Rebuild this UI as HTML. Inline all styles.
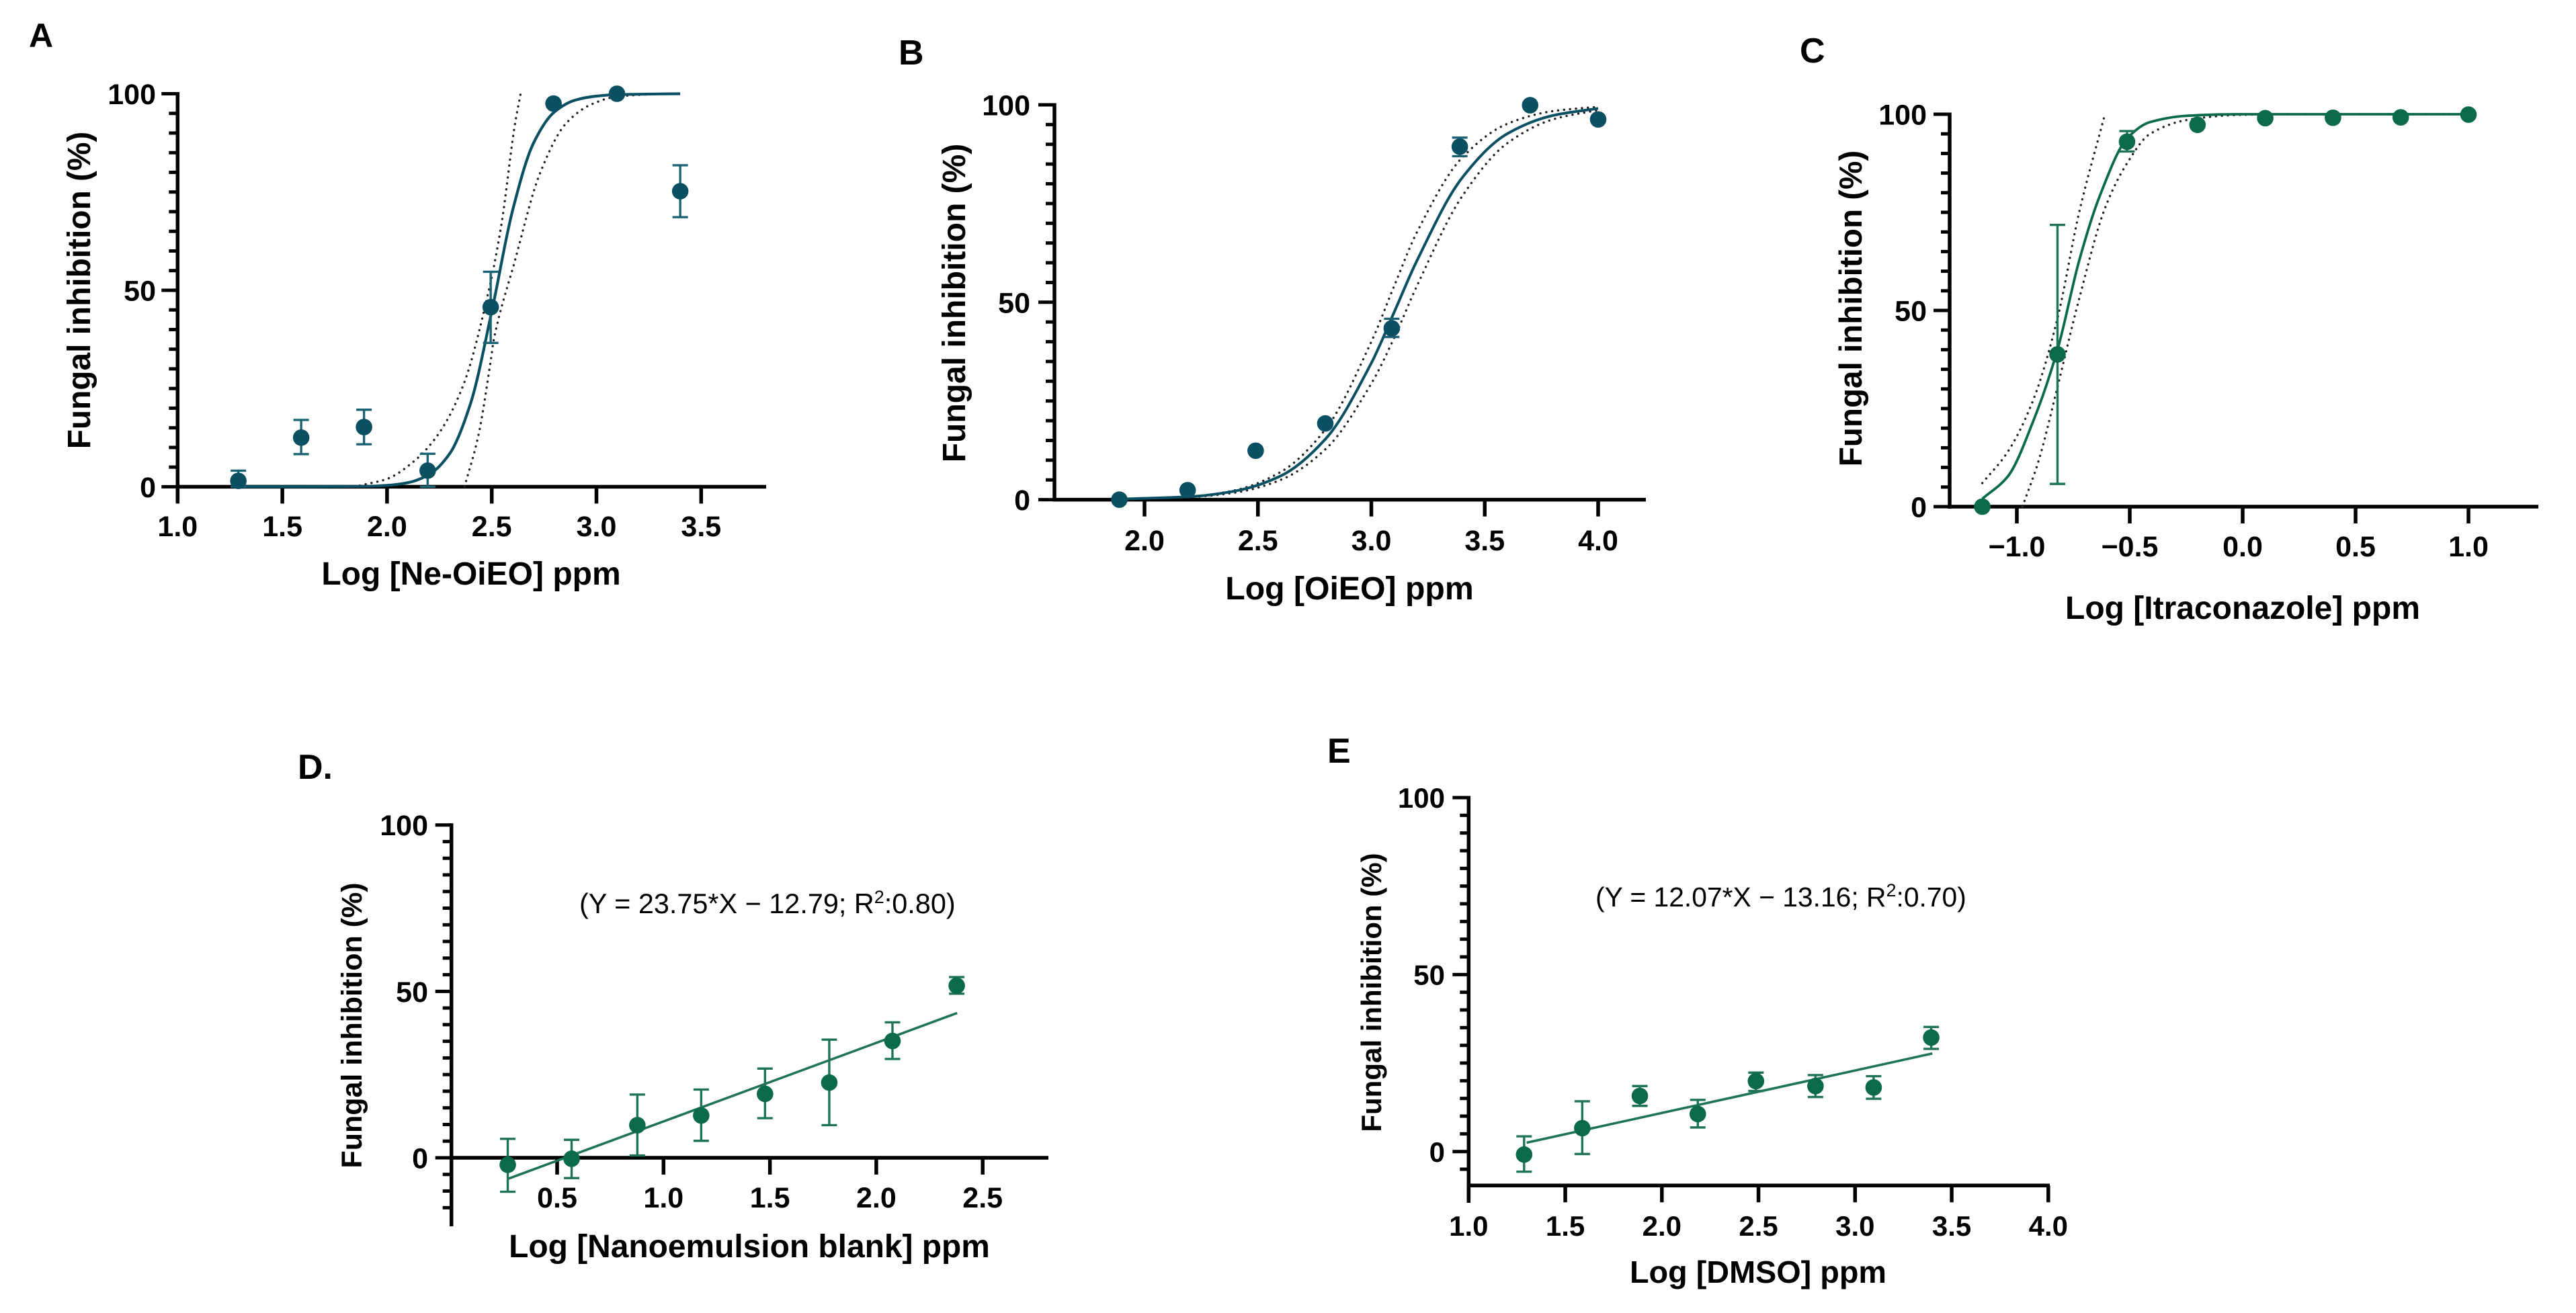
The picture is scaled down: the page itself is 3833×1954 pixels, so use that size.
<!DOCTYPE html>
<html lang="en">
<head>
<meta charset="utf-8">
<title>Fungal inhibition dose-response panels</title>
<style>
html,body{margin:0;padding:0;background:#fff;}
svg{display:block;}
text{font-family:"Liberation Sans",Arial,sans-serif;fill:#000;}
.bold{font-weight:700;}
</style>
</head>
<body>
<svg id="figure" xmlns="http://www.w3.org/2000/svg" width="3833" height="1954" viewBox="0 0 3833 1954">
<rect width="3833" height="1954" fill="#fff"/>

<g id="panel-a">
  <text class="bold" x="43" y="70" font-size="50">A</text>
  <text class="bold" font-size="47.8" text-anchor="middle" transform="translate(134,432) rotate(-90)">Fungal inhibition (%)</text>
  <text class="bold" font-size="48" text-anchor="middle" x="701" y="870">Log [Ne-OiEO] ppm</text>
</g>
<g id="panel-b">
  <text class="bold" x="1337" y="96" font-size="52">B</text>
  <text class="bold" font-size="48" text-anchor="middle" transform="translate(1436,451) rotate(-90)">Fungal inhibition (%)</text>
  <text class="bold" font-size="48.2" text-anchor="middle" x="2008" y="892">Log [OiEO] ppm</text>
</g>
<g id="panel-c">
  <text class="bold" x="2678" y="93" font-size="52">C</text>
  <text class="bold" font-size="47.6" text-anchor="middle" transform="translate(2770,459) rotate(-90)">Fungal inhibition (%)</text>
  <text class="bold" font-size="48" text-anchor="middle" x="3337" y="921">Log [Itraconazole] ppm</text>
</g>
<g id="panel-d">
  <text class="bold" x="443" y="1159" font-size="52">D.</text>
  <text class="bold" font-size="43" text-anchor="middle" transform="translate(538,1526) rotate(-90)">Fungal inhibition (%)</text>
  <text class="bold" font-size="47.9" text-anchor="middle" x="1115" y="1871">Log [Nanoemulsion blank] ppm</text>
  <text font-size="41.4" x="862" y="1359">(Y = 23.75*X − 12.79; R<tspan dy="-15" font-size="27">2</tspan><tspan dy="15">:0.80)</tspan></text>
</g>
<g id="panel-e">
  <text class="bold" x="1975" y="1135" font-size="52">E</text>
  <text class="bold" font-size="42" text-anchor="middle" transform="translate(2055,1477) rotate(-90)">Fungal inhibition (%)</text>
  <text class="bold" font-size="46.8" text-anchor="middle" x="2616" y="1909">Log [DMSO] ppm</text>
  <text font-size="40.8" x="2374" y="1349">(Y = 12.07*X − 13.16; R<tspan dy="-15" font-size="27">2</tspan><tspan dy="15">:0.70)</tspan></text>
</g>
</svg>

<script>
/* ---------- Panel A ---------- */
const aDose = [1.29, 1.59, 1.89, 2.194, 2.495, 2.795, 3.098, 3.4];
const aInhibition = [1.5, 12.5, 15.2, 4.1, 45.7, 97.5, 100, 75.2];
const aErrHigh = [4.1, 17, 19.6, 8.4, 54.7, 97.5, 100, 81.8];
const aErrLow = [0, 8.3, 10.8, 0, 36.6, 97.5, 100, 68.6];
const aFitX = [1.3, 1.6, 1.9, 2.0, 2.1, 2.2, 2.3, 2.4, 2.5, 2.6, 2.7, 2.8, 2.9, 3.0, 3.1, 3.4];
const aFitY = [0, 0, 0.12, 0.36, 1.05, 3.1, 8.5, 21.4, 44.6, 70.4, 87.5, 95.4, 98.4, 99.4, 99.8, 100];
const aUpperX = [1.87, 2.0, 2.12, 2.24, 2.363, 2.486, 2.547, 2.61, 2.638];
const aUpperY = [0.3, 2, 6.1, 13, 25.7, 50, 67, 92, 100];
const aLowerX = [2.37, 2.436, 2.495, 2.51, 2.608, 2.73, 2.854, 2.976, 3.1, 3.3];
const aLowerY = [0, 13, 32, 37.5, 57, 79.7, 92.4, 97.3, 99.3, 100];
const aXTicks = [1.0, 1.5, 2.0, 2.5, 3.0, 3.5];
const aXLabels = ['1.0', '1.5', '2.0', '2.5', '3.0', '3.5'];

/* ---------- Panel B ---------- */
const bDose = [1.889, 2.19, 2.49, 2.797, 3.09, 3.39, 3.7, 4.0];
const bInhibition = [0, 2.4, 12.4, 19.3, 43.4, 89.4, 99.9, 96.3];
const bErrHigh = [0, 2.4, 12.4, 19.3, 45.8, 91.7, 99.9, 96.3];
const bErrLow = [0, 2.4, 12.4, 19.3, 41.2, 87, 99.9, 96.3];
const bFitX = [1.9, 2.2, 2.4, 2.6, 2.8, 3.0, 3.1, 3.2, 3.4, 3.6, 3.8, 4.0];
const bFitY = [0.16, 0.76, 2.2, 6, 15.5, 34.6, 47.4, 60.4, 81.5, 92.7, 97.3, 99.1];
const bUpperX = [1.9, 2.2, 2.4, 2.6, 2.8, 3.0, 3.1, 3.2, 3.4, 3.6, 3.8, 4.0];
const bUpperY = [0.13, 0.73, 2.4, 7, 18, 40, 54, 67.6, 86.6, 95.2, 98.4, 99.5];
const bLowerX = [1.9, 2.2, 2.4, 2.6, 2.8, 3.0, 3.1, 3.2, 3.4, 3.6, 3.8, 4.0];
const bLowerY = [0.14, 0.66, 1.8, 5, 12.9, 29.4, 40.9, 54, 76.8, 90.3, 96.3, 98.7];
const bXTicks = [2.0, 2.5, 3.0, 3.5, 4.0];
const bXLabels = ['2.0', '2.5', '3.0', '3.5', '4.0'];

/* ---------- Panel C ---------- */
const cDose = [-1.153, -0.82, -0.512, -0.2, 0.1, 0.4, 0.7, 1.0];
const cInhibition = [0, 38.8, 93, 97.3, 99, 99.1, 99.2, 99.9];
const cErrHigh = [0, 71.8, 95.7, 97.3, 99, 99.1, 99.2, 99.9];
const cErrLow = [0, 5.8, 90.5, 97.3, 99, 99.1, 99.2, 99.9];
const cFitX = [-1.153, -1.04, -0.926, -0.82, -0.724, -0.634, -0.512, -0.41, -0.25, -0.03, 0.4, 1.0];
const cFitY = [2, 7.7, 22, 40, 62.7, 79, 93.8, 98, 99.6, 100, 100, 100];
const cUpperX = [-1.153, -1.04, -0.926, -0.82, -0.724, -0.61];
const cUpperY = [6, 14, 27.4, 48, 75, 100];
const cLowerX = [-0.975, -0.903, -0.82, -0.724, -0.61, -0.512, -0.41, -0.25, -0.03, 0.2, 1.0];
const cLowerY = [0, 11.8, 30.5, 53, 76, 87.5, 95, 98.5, 99.8, 100, 100];
const cXTicks = [-1.0, -0.5, 0.0, 0.5, 1.0];
const cXLabels = ['−1.0', '−0.5', '0.0', '0.5', '1.0'];

/* ---------- Panel D ---------- */
const dDose = [0.268, 0.568, 0.877, 1.177, 1.477, 1.779, 2.076, 2.378];
const dInhibition = [-2.1, -0.3, 9.8, 12.7, 19.2, 22.6, 35.1, 51.7];
const dErrHigh = [5.7, 5.4, 19, 20.5, 26.8, 35.5, 40.7, 54.3];
const dErrLow = [-10.2, -6.1, 0.7, 5.1, 11.9, 9.8, 29.7, 49.3];
const dLineX = [0.27, 2.38];
const dLineY = [-6.3, 43.5];
const dXTicks = [0.5, 1.0, 1.5, 2.0, 2.5];
const dXLabels = ['0.5', '1.0', '1.5', '2.0', '2.5'];

/* ---------- Panel E ---------- */
const eDose = [1.287, 1.588, 1.886, 2.186, 2.487, 2.795, 3.096, 3.394];
const eInhibition = [-0.85, 6.6, 15.7, 10.6, 19.9, 18.5, 18.1, 32.2];
const eErrHigh = [4.3, 14.2, 18.5, 14.6, 22.3, 21.6, 21.3, 35.2];
const eErrLow = [-5.7, -0.7, 12.9, 6.8, 17.1, 15.4, 14.9, 29];
const eLineX = [1.3, 3.4];
const eLineY = [2.5, 27.7];
const eXTicks = [1.0, 1.5, 2.0, 2.5, 3.0, 3.5, 4.0];
const eXLabels = ['1.0', '1.5', '2.0', '2.5', '3.0', '3.5', '4.0'];

/* ---------- Shared y-axis ---------- */
const yMajorTicks = [0, 50, 100];
const yMajorLabels = ['0', '50', '100'];
const yMinorTicks = [5, 10, 15, 20, 25, 30, 35, 40, 45, 55, 60, 65, 70, 75, 80, 85, 90, 95];
const yMinorNegD = [-5, -10, -15];
const yMinorNegE = [-5];

const TEAL = '#0a5062';
const GREEN = '#0a6a49';
const SVGNS = 'http://www.w3.org/2000/svg';

function node(parent, tag, attrs) {
  const el = document.createElementNS(SVGNS, tag);
  for (const k in attrs) el.setAttribute(k, attrs[k]);
  parent.appendChild(el);
  return el;
}

/* monotone cubic interpolation through the read-off points */
function smoothPath(xs, ys, sx, sy) {
  const p = xs.map((v, i) => [sx(v), sy(ys[i])]);
  const n = p.length;
  const sec = [];
  for (let i = 0; i < n - 1; i++) sec.push((p[i + 1][1] - p[i][1]) / (p[i + 1][0] - p[i][0]));
  const m = new Array(n);
  m[0] = sec[0];
  m[n - 1] = sec[n - 2];
  for (let i = 1; i < n - 1; i++) {
    m[i] = sec[i - 1] * sec[i] <= 0 ? 0 : 2 * sec[i - 1] * sec[i] / (sec[i - 1] + sec[i]);
  }
  let d = 'M' + p[0][0] + ' ' + p[0][1];
  for (let i = 0; i < n - 1; i++) {
    const h = (p[i + 1][0] - p[i][0]) / 3;
    d += 'C' + (p[i][0] + h) + ' ' + (p[i][1] + m[i] * h) + ' ' + (p[i + 1][0] - h) + ' ' + (p[i + 1][1] - m[i + 1] * h) + ' ' + p[i + 1][0] + ' ' + p[i + 1][1];
  }
  return d;
}

function drawPanel(cfg) {
  const g = document.getElementById(cfg.id);
  const sx = v => cfg.xPx0 + (v - cfg.xV0) * cfg.xUnit;
  const sy = v => cfg.yZero + (cfg.y100 - cfg.yZero) * v / 100;
  const axisY = cfg.xAxisValue === undefined ? cfg.yZero : sy(cfg.xAxisValue);

  /* y axis */
  const yAxis = node(g, 'line', {x1: cfg.axisX, x2: cfg.axisX, y1: cfg.y100 - 2.5, y2: cfg.yAxisBottom, stroke: '#000', 'stroke-width': 5.5});
  
  

  /* x axis */
  const xAxis = node(g, 'line', {x1: cfg.axisX - 2.7, x2: cfg.xEnd, y1: axisY, y2: axisY, stroke: '#000', 'stroke-width': 5.5});
  
  

  /* y ticks */
  yMajorTicks.forEach((v, i) => {
    const t = node(g, 'line', {x1: cfg.axisX - 24, x2: cfg.axisX, y1: sy(v), y2: sy(v), stroke: '#000', 'stroke-width': 5});
    
    
    const l = node(g, 'text', {x: cfg.yLabelRight, y: sy(v) + cfg.tickSize * 0.36, 'text-anchor': 'end', 'font-size': cfg.tickSize, 'font-weight': 700});
    l.textContent = yMajorLabels[i];
    
    
  });
  yMinorTicks.concat(cfg.minorExtra || []).forEach(v => {
    const t = node(g, 'line', {x1: cfg.axisX - 13, x2: cfg.axisX, y1: sy(v), y2: sy(v), stroke: '#000', 'stroke-width': 5});
    
    
  });

  /* x ticks */
  cfg.xTicks.forEach((v, i) => {
    const t = node(g, 'line', {x1: sx(v), x2: sx(v), y1: axisY, y2: axisY + 25, stroke: '#000', 'stroke-width': 5.5});
    
    
    const l = node(g, 'text', {x: sx(v), y: cfg.xLabelBase, 'text-anchor': 'middle', 'font-size': cfg.tickSize, 'font-weight': 700});
    l.textContent = cfg.xLabels[i];
    
    
  });

  /* confidence bands */
  if (cfg.upperX) {
    const up = node(g, 'path', {d: smoothPath(cfg.upperX, cfg.upperY, sx, sy), fill: 'none', stroke: '#222', 'stroke-width': 3.4, 'stroke-linecap': 'round', 'stroke-dasharray': '0.1 8.8'});
    
    
    const lo = node(g, 'path', {d: smoothPath(cfg.lowerX, cfg.lowerY, sx, sy), fill: 'none', stroke: '#222', 'stroke-width': 3.4, 'stroke-linecap': 'round', 'stroke-dasharray': '0.1 8.8'});
    
    
  }

  /* fit curve or regression line */
  const fit = node(g, 'path', {d: smoothPath(cfg.fitX, cfg.fitY, sx, sy), fill: 'none', stroke: cfg.fitColor, 'stroke-width': cfg.fitWidth});
  
  

  /* error bars and markers */
  cfg.dose.forEach((v, i) => {
    const px = sx(v);
    const hi = sy(cfg.errHigh[i]), lo = sy(cfg.errLow[i]);
    if (cfg.errHigh[i] !== cfg.errLow[i]) {
      const eb = node(g, 'path', {d: 'M' + px + ' ' + hi + 'V' + lo + 'M' + (px - 11.5) + ' ' + hi + 'H' + (px + 11.5) + 'M' + (px - 11.5) + ' ' + lo + 'H' + (px + 11.5), fill: 'none', stroke: cfg.errColor, 'stroke-width': 3.4});
      
      
    }
    const m = node(g, 'circle', {cx: px, cy: sy(cfg.values[i]), r: 12.3, fill: cfg.color});
    
    
  });
}

drawPanel({id: 'panel-a', color: TEAL, errColor: '#1b6373', fitColor: TEAL, fitWidth: 4.2, axisX: 264.3, xPx0: 264.3, xV0: 1.0, xUnit: 311.6, yZero: 724.4, y100: 139.5,
  xEnd: 1140, yAxisBottom: 747, xLabelBase: 798, yLabelRight: 232, tickSize: 43,
  dose: aDose, values: aInhibition, errHigh: aErrHigh, errLow: aErrLow, fitX: aFitX, fitY: aFitY,
  upperX: aUpperX, upperY: aUpperY, lowerX: aLowerX, lowerY: aLowerY, xTicks: aXTicks, xLabels: aXLabels});

drawPanel({id: 'panel-b', color: TEAL, errColor: '#1b6373', fitColor: TEAL, fitWidth: 4, axisX: 1569, xPx0: 1703, xV0: 2.0, xUnit: 337.5, yZero: 743.6, y100: 156,
  xEnd: 2449, yAxisBottom: 746, xLabelBase: 819, yLabelRight: 1533, tickSize: 43,
  dose: bDose, values: bInhibition, errHigh: bErrHigh, errLow: bErrLow, fitX: bFitX, fitY: bFitY,
  upperX: bUpperX, upperY: bUpperY, lowerX: bLowerX, lowerY: bLowerY, xTicks: bXTicks, xLabels: bXLabels});

drawPanel({id: 'panel-c', color: GREEN, errColor: '#1f7357', fitColor: GREEN, fitWidth: 3.8, axisX: 2901, xPx0: 3001, xV0: -1.0, xUnit: 336, yZero: 754, y100: 170,
  xEnd: 3777, yAxisBottom: 757, xLabelBase: 828, yLabelRight: 2867, tickSize: 43,
  dose: cDose, values: cInhibition, errHigh: cErrHigh, errLow: cErrLow, fitX: cFitX, fitY: cFitY,
  upperX: cUpperX, upperY: cUpperY, lowerX: cLowerX, lowerY: cLowerY, xTicks: cXTicks, xLabels: cXLabels});

drawPanel({id: 'panel-d', color: GREEN, errColor: '#1f7357', fitColor: '#1f7357', fitWidth: 3.6, axisX: 671.7, xPx0: 829, xV0: 0.5, xUnit: 316.6, yZero: 1723, y100: 1227.7,
  xEnd: 1560, yAxisBottom: 1825, xLabelBase: 1797, yLabelRight: 637, tickSize: 43, minorExtra: yMinorNegD,
  dose: dDose, values: dInhibition, errHigh: dErrHigh, errLow: dErrLow, fitX: dLineX, fitY: dLineY,
  xTicks: dXTicks, xLabels: dXLabels});

drawPanel({id: 'panel-e', color: GREEN, errColor: '#1f7357', fitColor: '#1f7357', fitWidth: 3.6, axisX: 2185.3, xPx0: 2185.3, xV0: 1.0, xUnit: 287.5, yZero: 1713.7, y100: 1187, xAxisValue: -9.6,
  xEnd: 3050, yAxisBottom: 1790, xLabelBase: 1839, yLabelRight: 2150, tickSize: 42, minorExtra: yMinorNegE,
  dose: eDose, values: eInhibition, errHigh: eErrHigh, errLow: eErrLow, fitX: eLineX, fitY: eLineY,
  xTicks: eXTicks, xLabels: eXLabels});
</script>
</body>
</html>
